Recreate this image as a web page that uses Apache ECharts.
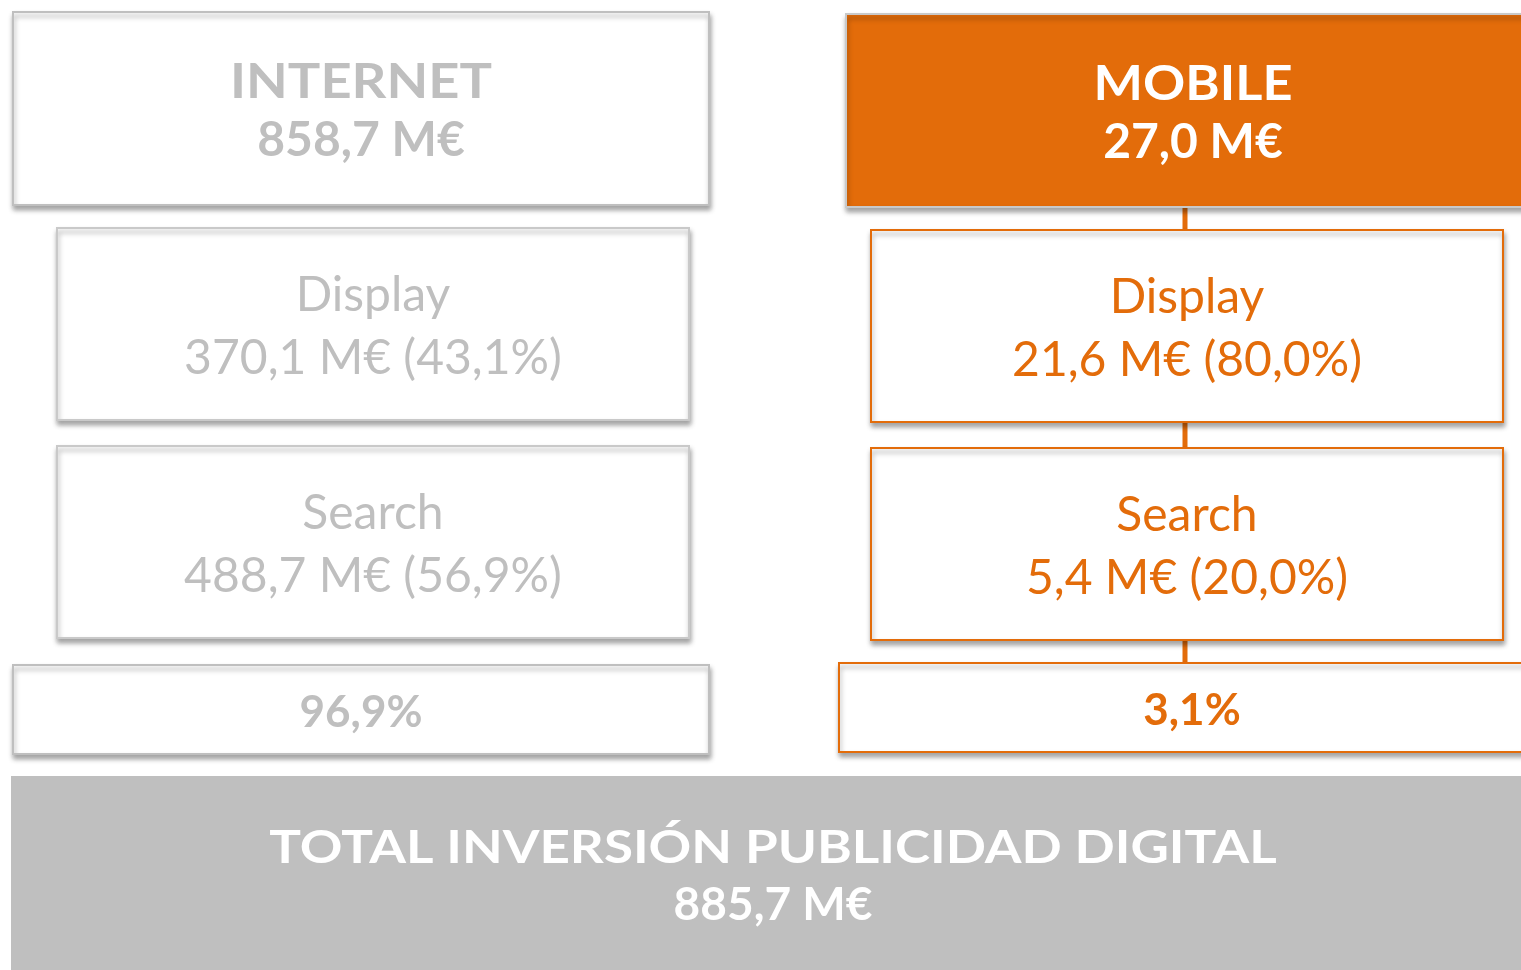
<!DOCTYPE html>
<html>
<head>
<meta charset="utf-8">
<script src="https://cdn.jsdelivr.net/npm/echarts@6/dist/echarts.min.js"></script>
<style>
html, body { margin: 0; padding: 0; background: #fff; }
#chart { width: 1521px; height: 970px; }
</style>
</head>
<body>
<div id="chart"></div>
<script>
// values
var channels = ['INTERNET', 'MOBILE'];
var channelTotals = [858.7, 27.0];
var channelShares = [96.9, 3.1];
var segments = ['Display', 'Search'];
var segmentValues = [[370.1, 488.7], [21.6, 5.4]];
var segmentShares = [[43.1, 56.9], [80.0, 20.0]];
var totalLabel = 'TOTAL INVERSIÓN PUBLICIDAD DIGITAL';
var grandTotal = 885.7;

var GRAY = '#bfbfbf';
var ORANGE = '#e36c0a';
var FONT = 'Lato, "Open Sans", sans-serif';
var CAPS_STRETCH = 1.13; // the caps in the original face run wider than Lato

// layout of the diagram, in axis units (1 unit = 1 px)
var colLayout = [
    {head: [13, 709], sub: [57, 689], share: [13, 709], head_y: [12, 205], sub_y: [[228, 420], [446, 638]], share_y: [665, 754]},
    {head: [846, 1540], sub: [871, 1503], share: [839, 1545], head_y: [14, 207], sub_y: [[230, 422], [448, 640]], share_y: [663, 752], link: 1185}
];
var totalLayout = {x: [12, 1534], y: [777, 985]};

function fmt(v) {
    return v.toFixed(1).replace('.', ',');
}

var myChart = echarts.init(document.getElementById('chart'));

var boxes = [];
var links = [];

channels.forEach(function (name, c) {
    var L = colLayout[c];
    var mobile = c === 1;
    if (L.link) {
        links.push({x: L.link, y0: L.head_y[1], y1: L.share_y[0]});
    }
    boxes.push({
        x: L.head, y: L.head_y, lh: 58,
        lines: [
            {t: name, weight: 'bold', size: 48, sx: mobile ? 1.09 : CAPS_STRETCH},
            {t: fmt(channelTotals[c]) + ' M€', weight: 'bold', size: 48, sx: 1}
        ],
        fill: mobile ? ORANGE : '#fff',
        stroke: mobile ? '#c9c9c9' : GRAY,
        color: mobile ? '#fff' : GRAY,
        shadow: true
    });
    segments.forEach(function (seg, s) {
        boxes.push({
            x: L.sub, y: L.sub_y[s], lh: 63,
            lines: [
                {t: seg, weight: 'normal', size: 48, sx: 1},
                {t: fmt(segmentValues[c][s]) + ' M€ (' + fmt(segmentShares[c][s]) + '%)', weight: 'normal', size: 48, sx: 1}
            ],
            fill: '#fff',
            stroke: mobile ? ORANGE : '#c9c9c9',
            color: mobile ? ORANGE : GRAY,
            shadow: true
        });
    });
    boxes.push({
        x: L.share, y: L.share_y, lh: 50,
        lines: [{t: fmt(channelShares[c]) + '%', weight: 'bold', size: 44, sx: 1}],
        fill: '#fff',
        stroke: mobile ? ORANGE : GRAY,
        color: mobile ? ORANGE : GRAY,
        shadow: true
    });
});

boxes.push({
    x: totalLayout.x, y: totalLayout.y, lh: 57,
    lines: [
        {t: totalLabel, weight: 'bold', size: 46, sx: 1.15},
        {t: fmt(grandTotal) + ' M€', weight: 'bold', size: 46, sx: 1}
    ],
    fill: GRAY, stroke: GRAY, color: '#fff',
    shadow: false,
    textY: 874
});

function renderLink(params, api) {
    var k = links[params.dataIndex];
    var a = api.coord([k.x, k.y0]);
    var b = api.coord([k.x, k.y1]);
    return {
        type: 'line',
        shape: {x1: a[0], y1: a[1], x2: b[0], y2: b[1]},
        style: {stroke: ORANGE, lineWidth: 5}
    };
}

function renderBox(params, api) {
    var b = boxes[params.dataIndex];
    var p0 = api.coord([b.x[0], b.y[0]]);
    var p1 = api.coord([b.x[1], b.y[1]]);
    var cx = (p0[0] + p1[0]) / 2;
    var cy = (b.textY ? api.coord([0, b.textY])[1] : (p0[1] + p1[1]) / 2) + 3;
    var rectStyle = {fill: b.fill, stroke: b.stroke, lineWidth: 2};
    if (b.shadow) {
        rectStyle.shadowBlur = 5;
        rectStyle.shadowOffsetX = 1;
        rectStyle.shadowOffsetY = 4;
        rectStyle.shadowColor = 'rgba(0,0,0,0.35)';
    }
    var children = [{
        type: 'rect',
        shape: {x: p0[0], y: p0[1], width: p1[0] - p0[0], height: p1[1] - p0[1]},
        style: rectStyle
    }];
    var n = b.lines.length;
    b.lines.forEach(function (ln, i) {
        children.push({
            type: 'text',
            x: cx,
            y: cy + (i - (n - 1) / 2) * b.lh,
            scaleX: ln.sx,
            style: {
                text: ln.t,
                x: 0,
                y: 0,
                align: 'center',
                verticalAlign: 'middle',
                fill: b.color,
                fontFamily: FONT,
                fontWeight: ln.weight,
                fontSize: ln.size
            }
        });
    });
    return {type: 'group', children: children};
}

myChart.setOption({
    backgroundColor: '#fff',
    animation: false,
    grid: {left: 0, right: 0, top: 0, bottom: 0},
    xAxis: {type: 'value', min: 0, max: 1521, show: false},
    yAxis: {type: 'value', min: 0, max: 970, inverse: true, show: false},
    series: [{
        type: 'custom',
        clip: false,
        renderItem: renderLink,
        data: links.map(function (k) { return [k.x, k.y0, k.x, k.y1]; }),
        encode: {x: [0, 2], y: [1, 3]},
        z: 1
    }, {
        type: 'custom',
        clip: false,
        renderItem: renderBox,
        data: boxes.map(function (b) { return [b.x[0], b.y[0], b.x[1], b.y[1]]; }),
        encode: {x: [0, 2], y: [1, 3]},
        z: 2
    }]
});
</script>
</body>
</html>
